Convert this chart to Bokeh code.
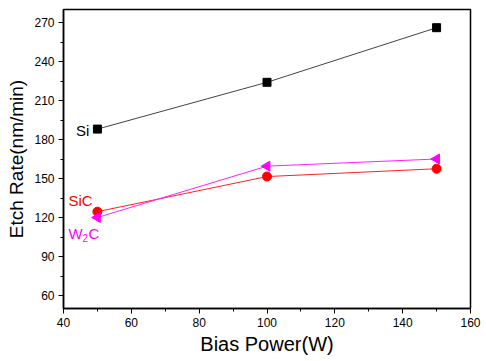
from bokeh.plotting import figure
from bokeh.models import Range1d, FixedTicker, ColumnDataSource
from bokeh.embed import file_html
from bokeh.resources import INLINE
from bokeh.core.properties import value
import math

power = [50, 100, 150]
si = [188, 224, 266]
sic = [124.5, 151.5, 157.5]
w2c = [120, 159.5, 165]

x_ticks = [40, 60, 80, 100, 120, 140, 160]
y_ticks = [60, 90, 120, 150, 180, 210, 240, 270]

FONT = "Liberation Sans"

p = figure(width=486, height=361, output_backend="svg", toolbar_location=None,
           x_range=Range1d(40, 160), y_range=Range1d(50, 280),
           min_border_left=63, min_border_right=16, min_border_top=9, min_border_bottom=53)
p.background_fill_color = "white"
p.border_fill_color = "white"
p.outline_line_color = "black"
p.outline_line_width = 1.5
p.grid.visible = False

p.xaxis.ticker = FixedTicker(ticks=x_ticks, minor_ticks=list(range(40, 161, 10)))
p.yaxis.ticker = FixedTicker(ticks=y_ticks, minor_ticks=list(range(45, 281, 15)))
for ax in (p.xaxis, p.yaxis):
    ax.axis_line_color = "black"
    ax.axis_line_width = 1.5
    ax.major_tick_line_color = "black"
    ax.minor_tick_line_color = "black"
    ax.major_tick_in = 0
    ax.major_tick_out = 5
    ax.minor_tick_in = 0
    ax.minor_tick_out = 3
    ax.major_label_text_font = FONT
    ax.major_label_text_font_size = "12px"
    ax.major_label_text_color = "black"
    ax.axis_label_text_font = FONT
    ax.axis_label_text_font_style = "normal"
    ax.axis_label_text_color = "black"
p.xaxis.axis_label = "Bias Power(W)"
p.yaxis.axis_label = "Etch Rate(nm/min)"
p.xaxis.axis_label_text_font_size = "20px"
p.yaxis.axis_label_text_font_size = "19px"
p.xaxis.axis_label_standoff = 3
p.yaxis.axis_label_standoff = 4
p.xaxis.major_label_standoff = 4
p.yaxis.major_label_standoff = 4

src = ColumnDataSource(dict(x=power, si=si, sic=sic, w2c=w2c))

p.line("x", "si", source=src, line_color="#444444", line_width=1)
p.scatter("x", "si", source=src, marker="square", size=8, color="black")

p.line("x", "sic", source=src, line_color="#ff2020", line_width=1)
p.scatter("x", "sic", source=src, marker="circle", size=9, color="#ff0000")

p.line("x", "w2c", source=src, line_color="#ff20ff", line_width=1)
p.scatter("x", "w2c", source=src, marker="triangle", size=10, color="#ff00ff", angle=math.pi / 2)

# series labels anchored to first points
p.text(x=[power[0]], y=[si[0]], text=["Si"], text_font=value(FONT), text_font_size="15px",
       text_color="black", text_align="right", text_baseline="middle", x_offset=-8, y_offset=1)
p.text(x=[power[0]], y=[sic[0]], text=["SiC"], text_font=value(FONT), text_font_size="15px",
       text_color="#ff0000", text_align="left", text_baseline="middle", x_offset=-29, y_offset=-11)
p.text(x=[power[0]], y=[w2c[0]], text=["W"], text_font=value(FONT), text_font_size="15px",
       text_color="#ff00ff", text_align="left", text_baseline="middle", x_offset=-29, y_offset=16)
p.text(x=[power[0]], y=[w2c[0]], text=["2"], text_font=value(FONT), text_font_size="10px",
       text_color="#ff00ff", text_align="left", text_baseline="middle", x_offset=-15, y_offset=20)
p.text(x=[power[0]], y=[w2c[0]], text=["C"], text_font=value(FONT), text_font_size="15px",
       text_color="#ff00ff", text_align="left", text_baseline="middle", x_offset=-9, y_offset=16)

open("out.html", "w").write(file_html(p, INLINE))
